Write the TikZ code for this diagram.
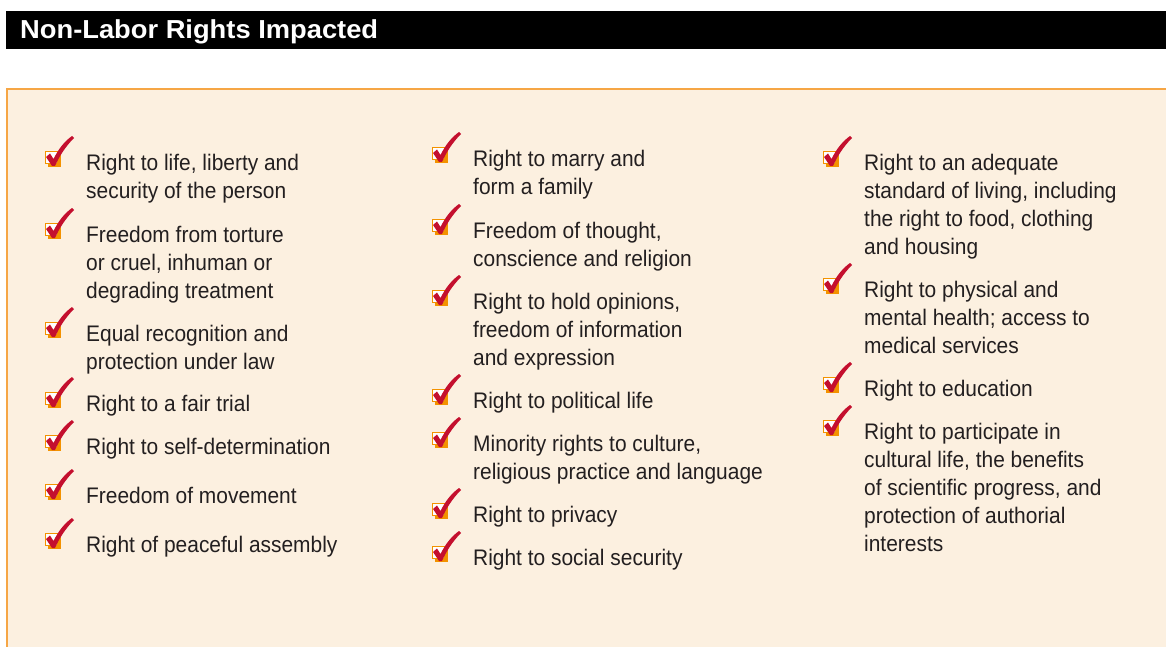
\documentclass[tikz,border=0pt]{standalone}
\usepackage{fontspec}
\setmainfont{Liberation Sans}
\newfontfamily\bodyfont{Liberation Sans}[FakeStretch=0.93]
\newfontfamily\titlefont{Liberation Sans Bold}[FakeStretch=1.05]
\definecolor{cream}{HTML}{FCF0E0}
\definecolor{panelorange}{HTML}{F6A645}
\definecolor{boxorange}{HTML}{F39200}
\definecolor{checkred}{HTML}{C40F2E}
\definecolor{textdark}{HTML}{231F20}
\newcommand{\itemlines}[1]{\begin{tabular}[t]{@{}l@{}}#1\end{tabular}}
\tikzset{
  chk/.pic={
    \fill[boxorange] (3,3) rectangle (16,16);
    \filldraw[fill=white, draw=boxorange, line width=1.2pt] (0.6,0.6) rectangle (12.5,12.5);
    \fill[checkred] (1,6) -- (5,2.5) -- (8.5,8) .. controls (14,-3) and (20,-10) .. (27,-15) -- (29,-13) .. controls (20,-4) and (14,6) .. (10,15) -- (7,15) -- cycle;
  },
  item/.style={anchor=base west, inner sep=0pt, text=textdark,
    font=\bodyfont\fontsize{22.5}{28}\selectfont},
}
\begin{document}
\begin{tikzpicture}[x=1pt,y=-1pt]
\useasboundingbox (0,0) rectangle (1166,647);
\fill[white] (0,0) rectangle (1166,647);
\fill[black] (6,11) rectangle (1166,49);
\node[anchor=base west, inner sep=0pt, text=white, font=\titlefont\fontsize{26}{30}\selectfont] (title) at (20,39) {Non-Labor Rights Impacted};
\filldraw[fill=cream, draw=panelorange, line width=2pt] (7,89) rectangle (1172,652);
% column 1
\pic at (45,151) {chk};
\node[item] (a1) at (86,170.5) {\itemlines{Right to life, liberty and\\security of the person}};
\pic at (45,223) {chk};
\node[item] (a2) at (86,242.5) {\itemlines{Freedom from torture\\or cruel, inhuman or\\degrading treatment}};
\pic at (45,322) {chk};
\node[item] (a3) at (86,341.5) {\itemlines{Equal recognition and\\protection under law}};
\pic at (45,392) {chk};
\node[item] (a4) at (86,411.5) {Right to a fair trial};
\pic at (45,435) {chk};
\node[item] (a5) at (86,454.5) {Right to self-determination};
\pic at (45,484) {chk};
\node[item] (a6) at (86,503.5) {Freedom of movement};
\pic at (45,533) {chk};
\node[item] (a7) at (86,552.5) {Right of peaceful assembly};
% column 2
\pic at (432,147) {chk};
\node[item] (b1) at (473,166.5) {\itemlines{Right to marry and\\form a family}};
\pic at (432,219) {chk};
\node[item] (b2) at (473,238.5) {\itemlines{Freedom of thought,\\conscience and religion}};
\pic at (432,290) {chk};
\node[item] (b3) at (473,309.5) {\itemlines{Right to hold opinions,\\freedom of information\\and expression}};
\pic at (432,389) {chk};
\node[item] (b4) at (473,408.5) {Right to political life};
\pic at (432,432) {chk};
\node[item] (b5) at (473,451.5) {\itemlines{Minority rights to culture,\\religious practice and language}};
\pic at (432,503) {chk};
\node[item] (b6) at (473,522.5) {Right to privacy};
\pic at (432,546) {chk};
\node[item] (b7) at (473,565.5) {Right to social security};
% column 3
\pic at (823,151) {chk};
\node[item] (c1) at (864,170.5) {\itemlines{Right to an adequate\\standard of living, including\\the right to food, clothing\\and housing}};
\pic at (823,278) {chk};
\node[item] (c2) at (864,297.5) {\itemlines{Right to physical and\\mental health; access to\\medical services}};
\pic at (823,377) {chk};
\node[item] (c3) at (864,396.5) {Right to education};
\pic at (823,420) {chk};
\node[item] (c4) at (864,439.5) {\itemlines{Right to participate in\\cultural life, the benefits\\of scientific progress, and\\protection of authorial\\interests}};
\end{tikzpicture}
\end{document}
